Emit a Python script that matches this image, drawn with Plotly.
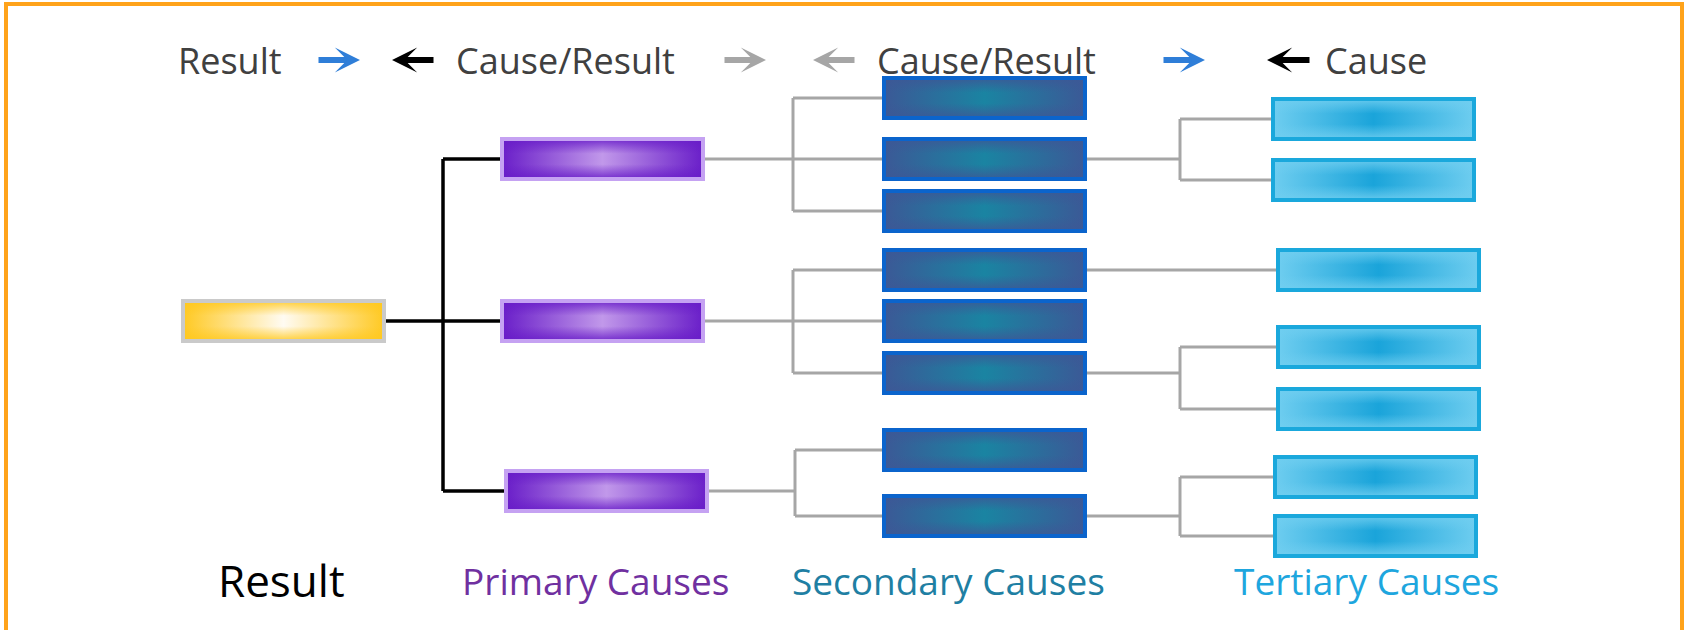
import plotly.graph_objects as go

W, H = 1685, 630

# ---- data (tree structure) ----
result_y = [321]
primary_y = [159, 321, 491]
primary_x = [500, 500, 504]
secondary_y = [98, 159, 211, 270, 321, 373, 450, 516]
secondary_parent = [0, 0, 0, 1, 1, 1, 2, 2]
tertiary_y = [119, 180, 270, 347, 409, 477, 536]
tertiary_parent = [1, 1, 3, 5, 5, 7, 7]
tertiary_x = [1271, 1271, 1276, 1276, 1276, 1273, 1273]

header_labels = ["Result", "Cause/Result", "Cause/Result", "Cause"]
header_x = [230, 565, 986, 1376]
level_labels = ["Result", "Primary Causes", "Secondary Causes", "Tertiary Causes"]
level_label_x = [281, 595, 948, 1366]
level_label_colors = ["#000000", "#7030a0", "#1f7fa3", "#1ea6de"]
level_label_sizes = [44, 37, 37, 37]

# ---- layout constants ----
BW, BH = 205, 44
RESULT_X = 181
SECONDARY_X = 882
J1_X = 443
J2_X = [793, 793, 795]
J3_X = 1180

STYLES = {
    "result": dict(edge=(255, 200, 30), center=(255, 251, 242), border="#cacaca"),
    "primary": dict(edge=(104, 28, 200), center=(193, 152, 234), border="#c5a2f2"),
    "secondary": dict(edge=(60, 88, 150), center=(26, 132, 162), border="#0b64cc"),
    "tertiary": dict(edge=(112, 206, 240), center=(26, 164, 218), border="#1aa8dc"),
}

fig = go.Figure()
shapes = []


def rgb(c, a=1.0):
    return "rgba(%d,%d,%d,%.2f)" % (c[0], c[1], c[2], a)


def add_box(x0, yc, style):
    s = STYLES[style]
    x1, y0, y1 = x0 + BW, yc - BH / 2, yc + BH / 2
    xs = [x0, x1, x1, x0, x0]
    ys = [y0, y0, y1, y1, y0]
    fig.add_trace(go.Scatter(
        x=xs, y=ys, mode="none", fill="toself", hoverinfo="skip", showlegend=False,
        fillgradient=dict(type="horizontal",
                          colorscale=[[0, rgb(s["edge"])], [0.5, rgb(s["center"])], [1, rgb(s["edge"])]])))
    fig.add_trace(go.Scatter(
        x=xs, y=ys, mode="none", fill="toself", hoverinfo="skip", showlegend=False,
        fillgradient=dict(type="vertical",
                          colorscale=[[0, rgb(s["edge"], 1)], [0.38, rgb(s["edge"], 0)],
                                      [0.62, rgb(s["edge"], 0)], [1, rgb(s["edge"], 1)]])))
    shapes.append(dict(type="rect", xref="x", yref="y", x0=x0 + 2, x1=x1 - 2, y0=y0 + 2, y1=y1 - 2,
                       line=dict(color=s["border"], width=4), fillcolor="rgba(0,0,0,0)", layer="above"))


def add_line(x0, y0, x1, y1, color, width=3):
    shapes.append(dict(type="line", xref="x", yref="y", x0=x0, y0=y0, x1=x1, y1=y1,
                       line=dict(color=color, width=width), layer="below"))


BLACK = "#000000"
GRAY = "#a6a6a6"

# result -> primary
ry = result_y[0]
add_line(RESULT_X + BW, ry, J1_X, ry, BLACK, 3.5)
add_line(J1_X, min(primary_y), J1_X, max(primary_y), BLACK, 3.5)
for py, px in zip(primary_y, primary_x):
    add_line(J1_X, py, px, py, BLACK, 3.5)

# primary -> secondary
for p, (py, px) in enumerate(zip(primary_y, primary_x)):
    kids = [secondary_y[i] for i, par in enumerate(secondary_parent) if par == p]
    jx = J2_X[p]
    add_line(px + BW, py, jx, py, GRAY)
    add_line(jx, min(kids), jx, max(kids), GRAY)
    for ky in kids:
        add_line(jx, ky, SECONDARY_X, ky, GRAY)

# secondary -> tertiary
for s_idx, sy in enumerate(secondary_y):
    kids = [(tertiary_y[i], tertiary_x[i]) for i, par in enumerate(tertiary_parent) if par == s_idx]
    if not kids:
        continue
    if len(kids) == 1:
        ky, kx = kids[0]
        add_line(SECONDARY_X + BW, sy, kx, ky, GRAY)
        continue
    add_line(SECONDARY_X + BW, sy, J3_X, sy, GRAY)
    add_line(J3_X, min(k[0] for k in kids), J3_X, max(k[0] for k in kids), GRAY)
    for ky, kx in kids:
        add_line(J3_X, ky, kx, ky, GRAY)

# boxes
add_box(RESULT_X, ry, "result")
for py, px in zip(primary_y, primary_x):
    add_box(px, py, "primary")
for sy in secondary_y:
    add_box(SECONDARY_X, sy, "secondary")
for ty, tx in zip(tertiary_y, tertiary_x):
    add_box(tx, ty, "tertiary")

# orange frame
shapes.append(dict(type="rect", xref="x", yref="y", x0=6, x1=1682, y0=4, y1=700,
                   line=dict(color="#ffa31a", width=4), fillcolor="rgba(0,0,0,0)", layer="above"))

annotations = []
HEADER_Y = 60
for lab, hx in zip(header_labels, header_x):
    annotations.append(dict(x=hx, y=HEADER_Y, xref="x", yref="y", text=lab, showarrow=False,
                            font=dict(family="Open Sans", size=36, color="#404040")))

# header arrows: (head, tail, color)
arrows = [(360, 317, "#2f7ed8"), (392, 435, "#000000"), (766, 723, "#a6a6a6"),
          (813, 856, "#a6a6a6"), (1205, 1162, "#2f7ed8"), (1267, 1311, "#000000")]
for head, tail, col in arrows:
    annotations.append(dict(x=head, y=HEADER_Y, ax=tail, ay=HEADER_Y, xref="x", yref="y",
                            axref="x", ayref="y", text="", showarrow=True, arrowhead=3,
                            arrowsize=0.7, arrowwidth=6, arrowcolor=col, standoff=0, startstandoff=0))

for lab, lx, col, sz in zip(level_labels, level_label_x, level_label_colors, level_label_sizes):
    annotations.append(dict(x=lx, y=580, xref="x", yref="y", text=lab, showarrow=False,
                            font=dict(family="Open Sans", size=sz, color=col)))

fig.update_layout(
    width=W, height=H, margin=dict(l=0, r=0, t=0, b=0),
    paper_bgcolor="white", plot_bgcolor="white",
    xaxis=dict(range=[0, W], visible=False, fixedrange=True),
    yaxis=dict(range=[H, 0], visible=False, fixedrange=True),
    shapes=shapes, annotations=annotations, showlegend=False,
)

fig.write_html("out.html", config={"displayModeBar": False},
               post_script="document.body.style.margin='0';document.body.style.overflow='hidden';")
